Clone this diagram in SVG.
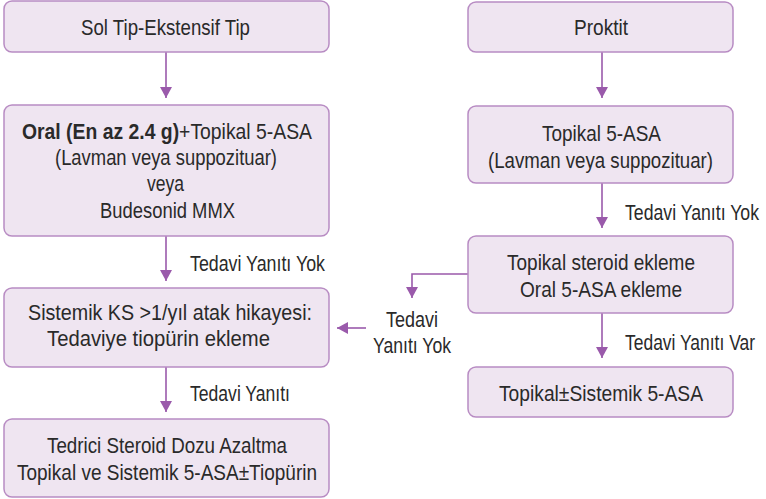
<svg xmlns="http://www.w3.org/2000/svg" width="766" height="499" viewBox="0 0 766 499">
  <style>
    .box { fill: #EFE5F1; stroke: #B88CC3; stroke-width: 1.5; }
    .t { font-family: "Liberation Sans", Arial, sans-serif; font-size: 22px; fill: #2A2A2A; }
    .b { font-weight: bold; }
    .end { text-anchor: end; }
    .wire { fill: none; stroke: #9A5AAB; stroke-width: 1.6; }
  </style>
  <defs>
    <marker id="head" markerUnits="userSpaceOnUse" markerWidth="12" markerHeight="12" refX="11" refY="6" orient="auto">
      <path d="M0,0 L11,6 L0,12 Z" fill="#9A5AAB"/>
    </marker>
  </defs>

  <g id="connectors">
    <!-- left column -->
    <line class="wire" x1="166" y1="52" x2="166" y2="98" marker-end="url(#head)"/>
    <line class="wire" x1="166" y1="236" x2="166" y2="281" marker-end="url(#head)"/>
    <line class="wire" x1="166" y1="367" x2="166" y2="412" marker-end="url(#head)"/>
    <!-- right column -->
    <line class="wire" x1="602" y1="52" x2="602" y2="98" marker-end="url(#head)"/>
    <line class="wire" x1="602" y1="183" x2="602" y2="228" marker-end="url(#head)"/>
    <line class="wire" x1="602" y1="313" x2="602" y2="358" marker-end="url(#head)"/>
    <!-- cross branch -->
    <polyline class="wire" points="468,274 412,274 412,298" marker-end="url(#head)"/>
    <line class="wire" x1="366" y1="328" x2="337" y2="328" marker-end="url(#head)"/>
    <!-- labels -->
    <text class="t" x="190" y="271" textLength="135" lengthAdjust="spacingAndGlyphs">Tedavi Yanıtı Yok</text>
    <text class="t" x="190" y="401" textLength="100" lengthAdjust="spacingAndGlyphs">Tedavi Yanıtı</text>
    <text class="t end" x="759" y="220" textLength="134" lengthAdjust="spacingAndGlyphs">Tedavi Yanıtı Yok</text>
    <text class="t" x="386" y="327" textLength="52" lengthAdjust="spacingAndGlyphs">Tedavi</text>
    <text class="t" x="373" y="353" textLength="78" lengthAdjust="spacingAndGlyphs">Yanıtı Yok</text>
    <text class="t end" x="755" y="350" textLength="130" lengthAdjust="spacingAndGlyphs">Tedavi Yanıtı Var</text>
  </g>

  <g id="sol-tip">
    <rect class="box" x="4" y="1" width="325" height="51" rx="8"/>
    <text class="t" x="81" y="35" textLength="169" lengthAdjust="spacingAndGlyphs">Sol Tip-Ekstensif Tip</text>
  </g>

  <g id="oral-topikal">
    <rect class="box" x="4" y="105" width="325" height="131" rx="8"/>
    <text class="t" x="22" y="139" textLength="290" lengthAdjust="spacingAndGlyphs"><tspan class="b">Oral (En az 2.4 g)</tspan>+Topikal 5-ASA</text>
    <text class="t" x="55" y="165" textLength="222" lengthAdjust="spacingAndGlyphs">(Lavman veya suppozituar)</text>
    <text class="t" x="147" y="191" textLength="37" lengthAdjust="spacingAndGlyphs">veya</text>
    <text class="t" x="100" y="218" textLength="135" lengthAdjust="spacingAndGlyphs">Budesonid MMX</text>
  </g>

  <g id="sistemik-ks">
    <rect class="box" x="4" y="288" width="325" height="79" rx="8"/>
    <text class="t" x="28" y="320" textLength="284" lengthAdjust="spacingAndGlyphs">Sistemik KS &gt;1/yıl atak hikayesi:</text>
    <text class="t" x="47" y="346" textLength="223" lengthAdjust="spacingAndGlyphs">Tedaviye tiopürin ekleme</text>
  </g>

  <g id="tedrici">
    <rect class="box" x="4" y="419" width="325" height="78" rx="8"/>
    <text class="t" x="47" y="453" textLength="240" lengthAdjust="spacingAndGlyphs">Tedrici Steroid Dozu Azaltma</text>
    <text class="t" x="17" y="480" textLength="300" lengthAdjust="spacingAndGlyphs">Topikal ve Sistemik 5-ASA±Tiopürin</text>
  </g>

  <g id="proktit">
    <rect class="box" x="468" y="2" width="265" height="50" rx="8"/>
    <text class="t" x="574" y="35" textLength="54" lengthAdjust="spacingAndGlyphs">Proktit</text>
  </g>

  <g id="topikal-5asa">
    <rect class="box" x="468" y="106" width="265" height="77" rx="8"/>
    <text class="t" x="542" y="141" textLength="119" lengthAdjust="spacingAndGlyphs">Topikal 5-ASA</text>
    <text class="t" x="488" y="168" textLength="225" lengthAdjust="spacingAndGlyphs">(Lavman veya suppozituar)</text>
  </g>

  <g id="topikal-steroid">
    <rect class="box" x="468" y="236" width="265" height="77" rx="8"/>
    <text class="t" x="507" y="270" textLength="188" lengthAdjust="spacingAndGlyphs">Topikal steroid ekleme</text>
    <text class="t" x="520" y="297" textLength="162" lengthAdjust="spacingAndGlyphs">Oral 5-ASA ekleme</text>
  </g>

  <g id="topikal-sistemik">
    <rect class="box" x="468" y="367" width="265" height="50" rx="8"/>
    <text class="t" x="499" y="401" textLength="204" lengthAdjust="spacingAndGlyphs">Topikal±Sistemik 5-ASA</text>
  </g>
</svg>
